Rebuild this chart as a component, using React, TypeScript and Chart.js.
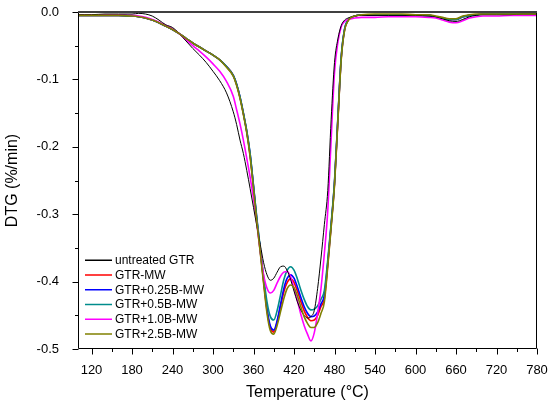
import { useEffect, useRef } from "react";
import { Chart, registerables } from "chart.js";

Chart.register(...registerables);

// temperature grid (°C) shared by all curves
const temps = [
  100, 110, 120, 140, 160, 180, 190, 200, 210, 220,
  230, 240, 250, 260, 270, 280, 290, 300, 310, 320,
  330, 335, 340, 345, 350, 355, 360, 365, 370, 375,
  380, 385, 390, 395, 400, 405, 410, 415, 420, 425,
  430, 435, 440, 445, 450, 455, 460, 465, 470, 475,
  480, 485, 490, 495, 500, 505, 510, 520, 540, 560,
  580, 600, 620, 630, 640, 650, 660, 670, 680, 690,
  700, 720, 740, 760, 780,
];

// DTG (%/min)
const untreatedGtr = [
  -0.004, -0.004, -0.004, -0.003, -0.003, -0.003, -0.002, -0.003, -0.006, -0.012,
  -0.019, -0.023, -0.032, -0.043, -0.054, -0.064, -0.075, -0.088, -0.102, -0.12,
  -0.148, -0.167, -0.19, -0.21, -0.235, -0.262, -0.29, -0.318, -0.345, -0.372,
  -0.39, -0.398, -0.395, -0.386, -0.378, -0.377, -0.384, -0.397, -0.414, -0.43,
  -0.442, -0.45, -0.454, -0.452, -0.443, -0.41, -0.365, -0.315, -0.265, -0.16,
  -0.075, -0.04, -0.02, -0.012, -0.009, -0.007, -0.006, -0.005, -0.005, -0.005,
  -0.005, -0.005, -0.006, -0.007, -0.01, -0.013, -0.014, -0.011, -0.007, -0.005,
  -0.004, -0.004, -0.004, -0.003, -0.003,
];

const gtrMw = [
  -0.005, -0.005, -0.005, -0.005, -0.005, -0.006, -0.007, -0.009, -0.012, -0.016,
  -0.021, -0.026, -0.032, -0.039, -0.046, -0.052, -0.058, -0.064, -0.071, -0.081,
  -0.094, -0.108, -0.127, -0.151, -0.178, -0.213, -0.26, -0.31, -0.355, -0.4,
  -0.443, -0.469, -0.475, -0.46, -0.437, -0.415, -0.401, -0.396, -0.401, -0.414,
  -0.429, -0.443, -0.453, -0.458, -0.457, -0.45, -0.437, -0.425, -0.375, -0.318,
  -0.255, -0.16, -0.068, -0.026, -0.013, -0.008, -0.006, -0.004, -0.004, -0.004,
  -0.004, -0.005, -0.005, -0.007, -0.009, -0.011, -0.011, -0.007, -0.005, -0.004,
  -0.003, -0.003, -0.003, -0.003, -0.003,
];

const gtr025 = [
  -0.005, -0.005, -0.005, -0.005, -0.005, -0.006, -0.007, -0.009, -0.012, -0.016,
  -0.021, -0.026, -0.032, -0.039, -0.046, -0.052, -0.058, -0.064, -0.071, -0.081,
  -0.094, -0.107, -0.126, -0.15, -0.177, -0.211, -0.258, -0.308, -0.353, -0.398,
  -0.44, -0.466, -0.472, -0.458, -0.434, -0.41, -0.395, -0.39, -0.395, -0.408,
  -0.423, -0.437, -0.447, -0.452, -0.451, -0.445, -0.433, -0.42, -0.372, -0.316,
  -0.253, -0.158, -0.067, -0.025, -0.012, -0.008, -0.006, -0.004, -0.004, -0.004,
  -0.004, -0.005, -0.005, -0.007, -0.009, -0.011, -0.011, -0.007, -0.005, -0.004,
  -0.003, -0.003, -0.003, -0.003, -0.003,
];

const gtr05 = [
  -0.005, -0.005, -0.005, -0.005, -0.005, -0.006, -0.007, -0.009, -0.012, -0.016,
  -0.021, -0.026, -0.032, -0.039, -0.046, -0.052, -0.058, -0.064, -0.071, -0.081,
  -0.094, -0.107, -0.126, -0.15, -0.176, -0.21, -0.258, -0.306, -0.35, -0.393,
  -0.43, -0.452, -0.457, -0.443, -0.42, -0.397, -0.383, -0.378, -0.383, -0.396,
  -0.412, -0.426, -0.437, -0.442, -0.441, -0.436, -0.426, -0.413, -0.368, -0.314,
  -0.252, -0.157, -0.066, -0.025, -0.012, -0.008, -0.006, -0.004, -0.004, -0.004,
  -0.004, -0.005, -0.005, -0.007, -0.009, -0.011, -0.011, -0.007, -0.005, -0.004,
  -0.003, -0.003, -0.003, -0.003, -0.003,
];

const gtr10 = [
  -0.004, -0.004, -0.004, -0.004, -0.004, -0.005, -0.006, -0.008, -0.011, -0.015,
  -0.02, -0.025, -0.032, -0.041, -0.05, -0.058, -0.067, -0.077, -0.088, -0.103,
  -0.125, -0.145, -0.166, -0.19, -0.217, -0.245, -0.277, -0.315, -0.355, -0.39,
  -0.41, -0.417, -0.413, -0.402, -0.392, -0.386, -0.385, -0.393, -0.41, -0.428,
  -0.448, -0.465, -0.478, -0.488, -0.476, -0.447, -0.41, -0.358, -0.295, -0.19,
  -0.09, -0.045, -0.022, -0.014, -0.011, -0.01, -0.009, -0.008, -0.008, -0.007,
  -0.007, -0.007, -0.008, -0.009, -0.012, -0.015, -0.016, -0.013, -0.009, -0.007,
  -0.006, -0.006, -0.005, -0.005, -0.005,
];

const gtr25 = [
  -0.005, -0.005, -0.005, -0.005, -0.005, -0.006, -0.007, -0.009, -0.012, -0.016,
  -0.021, -0.026, -0.032, -0.039, -0.046, -0.052, -0.058, -0.064, -0.071, -0.082,
  -0.095, -0.109, -0.128, -0.152, -0.179, -0.215, -0.262, -0.312, -0.357, -0.403,
  -0.447, -0.473, -0.478, -0.465, -0.445, -0.425, -0.41, -0.405, -0.409, -0.421,
  -0.437, -0.452, -0.462, -0.468, -0.468, -0.461, -0.447, -0.43, -0.378, -0.32,
  -0.257, -0.162, -0.07, -0.027, -0.013, -0.008, -0.006, -0.004, -0.003, -0.003,
  -0.003, -0.004, -0.004, -0.006, -0.008, -0.01, -0.01, -0.006, -0.004, -0.003,
  -0.003, -0.003, -0.003, -0.003, -0.003,
];

const seriesNames = [
  "untreated GTR",
  "GTR-MW",
  "GTR+0.25B-MW",
  "GTR+0.5B-MW",
  "GTR+1.0B-MW",
  "GTR+2.5B-MW",
];
const seriesValues = [untreatedGtr, gtrMw, gtr025, gtr05, gtr10, gtr25];
const seriesColors = ["#000000", "#ff0000", "#0000ff", "#008c8c", "#ff00ff", "#808000"];
const seriesWidths = [1, 1.6, 1.6, 1.6, 1.6, 1.6];
const drawOrder = [1, 5, 4, 3, 2, 0]; // olive on top

const xTicks = [120, 180, 240, 300, 360, 420, 480, 540, 600, 660, 720, 780];
const xMinorTicks = [150, 210, 270, 330, 390, 450, 510, 570, 630, 690, 750];
const yTicks = [0, -0.1, -0.2, -0.3, -0.4, -0.5];
const yMinorTicks = [-0.05, -0.15, -0.25, -0.35, -0.45];

const FONT = "'Liberation Sans', Arial, sans-serif";

// axes frame + outward major/minor ticks
const framePlugin = {
  id: "frame",
  afterDatasetsDraw(chart: any) {
    const { ctx, chartArea, scales } = chart;
    const l = Math.round(chartArea.left) + 0.5;
    const r = Math.round(chartArea.right) - 0.5;
    const t = Math.round(chartArea.top);
    const b = Math.round(chartArea.bottom) - 0.5;
    ctx.save();
    ctx.strokeStyle = "#000";
    ctx.lineWidth = 1;
    ctx.beginPath();
    ctx.moveTo(l, t);
    ctx.lineTo(l, b);
    ctx.lineTo(r, b);
    ctx.lineTo(r, t);
    ctx.stroke();

    ctx.beginPath();
    xTicks.forEach((v) => {
      const px = Math.round(scales.x.getPixelForValue(v)) + 0.5;
      ctx.moveTo(px, b);
      ctx.lineTo(px, b + 6);
    });
    xMinorTicks.forEach((v) => {
      const px = Math.round(scales.x.getPixelForValue(v)) + 0.5;
      ctx.moveTo(px, b);
      ctx.lineTo(px, b + 3.5);
    });
    yTicks.forEach((v) => {
      const py = Math.round(scales.y.getPixelForValue(v)) + 0.5;
      ctx.moveTo(l, py);
      ctx.lineTo(l - 6, py);
    });
    yMinorTicks.forEach((v) => {
      const py = Math.round(scales.y.getPixelForValue(v)) + 0.5;
      ctx.moveTo(l, py);
      ctx.lineTo(l - 3.5, py);
    });
    ctx.stroke();

    // heavier top border
    ctx.strokeStyle = "#404040";
    ctx.lineWidth = 2;
    ctx.beginPath();
    ctx.moveTo(chartArea.left, t);
    ctx.lineTo(chartArea.right, t);
    ctx.stroke();
    ctx.restore();
  },
};

// legend box in the lower-left corner of the plot
const legendPlugin = {
  id: "cornerLegend",
  afterDraw(chart: any) {
    const { ctx, chartArea } = chart;
    const x0 = chartArea.left + 7;
    const rowH = 14.75;
    const y0 = chartArea.bottom - 15 - rowH * (seriesNames.length - 1);
    ctx.save();
    ctx.font = `12px ${FONT}`;
    ctx.textBaseline = "middle";
    ctx.textAlign = "left";
    seriesNames.forEach((name, i) => {
      const y = y0 + i * rowH;
      ctx.strokeStyle = seriesColors[i];
      ctx.lineWidth = 1.5;
      ctx.beginPath();
      ctx.moveTo(x0, y);
      ctx.lineTo(x0 + 27, y);
      ctx.stroke();
      ctx.fillStyle = "#000";
      ctx.fillText(name, x0 + 30, y + 0.5);
    });
    ctx.restore();
  },
};

export default function App() {
  const canvasRef = useRef<HTMLCanvasElement | null>(null);

  useEffect(() => {
    if (!canvasRef.current) return;
    const ctx = canvasRef.current.getContext("2d");
    if (!ctx) return;

    const chart = new Chart(ctx, {
      type: "line",
      data: {
        datasets: seriesNames.map((name, i) => ({
          label: name,
          data: temps.map((t, j) => ({ x: t, y: seriesValues[i][j] })),
          borderColor: seriesColors[i],
          backgroundColor: seriesColors[i],
          borderWidth: seriesWidths[i],
          pointRadius: 0,
          cubicInterpolationMode: "monotone" as const,
          order: drawOrder[i],
        })),
      },
      options: {
        responsive: true,
        maintainAspectRatio: false,
        animation: false,
        layout: { padding: { left: 0, right: 13, top: 12, bottom: 0 } },
        plugins: {
          legend: { display: false },
          tooltip: { enabled: false },
        },
        scales: {
          x: {
            type: "linear",
            min: 100,
            max: 780,
            grid: { display: false },
            border: { display: false },
            afterBuildTicks: (scale: any) => {
              scale.ticks = xTicks.map((v) => ({ value: v }));
            },
            afterFit: (scale: any) => {
              scale.height = 56;
              scale.paddingLeft = 0;
              scale.paddingRight = 0;
            },
            ticks: {
              autoSkip: false,
              maxRotation: 0,
              padding: 6,
              color: "#000",
              font: { family: FONT, size: 13 },
              callback: (v: any) => String(v),
            },
            title: {
              display: true,
              text: "Temperature (°C)",
              color: "#000",
              font: { family: FONT, size: 16 },
              padding: { top: 0, bottom: 3 },
            },
          },
          y: {
            type: "linear",
            min: -0.5,
            max: 0,
            grid: { display: false },
            border: { display: false },
            afterBuildTicks: (scale: any) => {
              scale.ticks = yTicks.map((v) => ({ value: v }));
            },
            afterFit: (scale: any) => {
              scale.width = 78;
              scale.paddingTop = 0;
              scale.paddingBottom = 0;
            },
            ticks: {
              padding: 11,
              color: "#000",
              font: { family: FONT, size: 13 },
              callback: (v: any) => Number(v).toFixed(1),
            },
            title: {
              display: true,
              text: "DTG (%/min)",
              color: "#000",
              font: { family: FONT, size: 16 },
              padding: { top: 3, bottom: 0 },
            },
          },
        },
      },
      plugins: [framePlugin, legendPlugin],
    });

    return () => {
      chart.destroy();
    };
  }, []);

  return (
    <div style={{ position: "absolute", left: 0, top: 0, width: 550, height: 405, background: "#fff" }}>
      <canvas ref={canvasRef}></canvas>
    </div>
  );
}
